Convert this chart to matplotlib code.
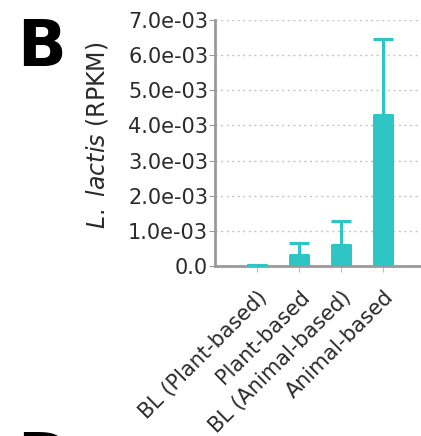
import matplotlib
matplotlib.use("Agg")
import matplotlib.pyplot as plt
import numpy as np

categories = ["BL (Plant-based)", "Plant-based", "BL (Animal-based)", "Animal-based"]
means = [0.00002, 0.00031, 0.00060, 0.00430]
errors = [0.00002, 0.00035, 0.00069, 0.00216]
yticks = [0.0, 0.001, 0.002, 0.003, 0.004, 0.005, 0.006, 0.007]
ytick_labels = ["0.0", "1.0e-03", "2.0e-03", "3.0e-03", "4.0e-03", "5.0e-03", "6.0e-03", "7.0e-03"]

color = "#2EC6C4"
spine = "#9a9a9a"
textc = "#2a2a2a"

fig = plt.figure(figsize=(4.21, 4.36), dpi=100)
ax = fig.add_axes([0.511, 0.390, 0.489, 0.564])

x = np.arange(1, len(categories) + 1)
ax.bar(x, means, width=0.5, color=color, zorder=3)
ax.errorbar(x, means, yerr=[np.zeros(len(errors)), errors], fmt="none",
            ecolor=color, elinewidth=2.2, capsize=7, capthick=2.2, zorder=4)

ax.set_xlim(0, 4.9)
ax.set_ylim(0, 0.007)
ax.set_yticks(yticks)
ax.set_yticklabels(ytick_labels, fontsize=15, color=textc)
ax.set_xticks(x)
ax.set_xticklabels(categories, rotation=45, ha="right", rotation_mode="anchor",
                   fontsize=15, color=textc)
ax.tick_params(axis="x", length=4, color="#bbbbbb", pad=11)
ax.tick_params(axis="y", length=4, color=spine, pad=1)
ax.yaxis.grid(True, linestyle=(0, (1.5, 2.5)), color="#c4c4c4", linewidth=1, zorder=0)
for s in ["top", "right"]:
    ax.spines[s].set_visible(False)
for s in ["left", "bottom"]:
    ax.spines[s].set_color(spine)
    ax.spines[s].set_linewidth(2)

ax.set_ylabel(r"$\it{L.\ lactis}$ (RPKM)", fontsize=17, color=textc)
ax.yaxis.set_label_coords(-0.51, 0.533)

fig.text(0.04, 0.96, "B", fontsize=46, fontweight="bold", va="top", ha="left", color="black")
fig.text(0.04, 0.014, "D", fontsize=46, fontweight="bold", va="top", ha="left", color="black")

fig.savefig("out.png", dpi=100)
